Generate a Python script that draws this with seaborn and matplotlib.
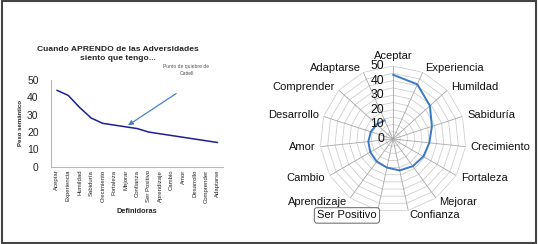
import numpy as np
import pandas as pd
import matplotlib
matplotlib.use("Agg")
import matplotlib.pyplot as plt
import seaborn as sns
from matplotlib.patches import Rectangle

# datos
definidoras = ["Aceptar", "Experiencia", "Humildad", "Sabiduría", "Crecimiento",
               "Fortaleza", "Mejorar", "Confianza", "Ser Positivo", "Aprendizaje",
               "Cambio", "Amor", "Desarrollo", "Comprender", "Adaptarse"]
peso = [44, 41, 34, 28, 25, 24, 23, 22, 20, 19, 18, 17, 16, 15, 14]
y_ticks = [0, 10, 20, 30, 40, 50]
quiebre = "Mejorar"

sns.set_theme(style="white")
plt.rcParams['font.family'] = ['Liberation Sans', 'DejaVu Sans']

fig = plt.figure(figsize=(5.38, 2.44), dpi=100)

# ---------------- línea (izquierda) ----------------
df = pd.DataFrame({"Definidoras": definidoras, "Peso": peso})
df["pos"] = np.arange(len(df))
ax = fig.add_axes([0.095, 0.316, 0.320, 0.357])
sns.lineplot(data=df, x="pos", y="Peso", ax=ax, color="#1f1f8f", linewidth=1.1)
ax.set_xlim(-0.5, len(definidoras) - 0.5)
ax.set_ylim(0, 50)
ax.set_yticks(y_ticks)
ax.set_xticks(df["pos"])
ax.set_xticklabels(definidoras, rotation=90, fontsize=4.3)
ax.tick_params(axis="y", labelsize=7.5, pad=9, length=0)
ax.tick_params(axis="x", pad=2, length=0)
for s in ["top", "right"]:
    ax.spines[s].set_visible(False)
for s in ["left", "bottom"]:
    ax.spines[s].set_color("#b8b8b8")
    ax.spines[s].set_linewidth(0.8)
ax.set_xlabel("Definidoras", fontsize=5.3, fontweight="bold", labelpad=4)
ax.set_ylabel("Peso semántico", fontsize=4.3, fontweight="bold", labelpad=3)
ax.set_title("Cuando APRENDO de las Adversidades\nsiento que tengo...",
             fontsize=6.1, fontweight="bold", pad=14, linespacing=1.5, x=0.39)

i_q = definidoras.index(quiebre)
ax.annotate("", xy=(i_q, peso[i_q]), xytext=(10.6, 43),
            arrowprops=dict(arrowstyle="-|>", color="#4a80d0", lw=0.9,
                            mutation_scale=7))
ax.text(11.3, 55.5, "Punto de quiebre de\nCattell", fontsize=3.6, color="#555555",
        ha="center", va="center", clip_on=False, linespacing=1.6)

# ---------------- radar (derecha) ----------------
n = len(definidoras)
ang = np.linspace(0, 2 * np.pi, n, endpoint=False)
rax = fig.add_axes([0.5948, 0.1311, 0.2714, 0.5984], projection="polar")
rax.set_theta_offset(np.pi / 2)
rax.set_theta_direction(-1)
rax.set_ylim(0, 50)
rax.grid(False)
rax.spines["polar"].set_visible(False)
rax.set_xticks([])
rax.set_yticks([])

# rejilla poligonal
ang_c = np.append(ang, ang[0])
for r in np.arange(5, 51, 5):
    rax.plot(ang_c, np.full(n + 1, r), color="#cfcfcf", lw=0.6, zorder=1)
for a in ang:
    rax.plot([a, a], [0, 50], color="#a8a8a8", lw=0.6, zorder=1)

rdf = pd.DataFrame({"ang": ang_c, "Peso": peso + [peso[0]]})
sns.lineplot(data=rdf, x="ang", y="Peso", ax=rax, sort=False, color="#3b78c6",
             linewidth=1.4, zorder=3)
rax.set_xlabel("")
rax.set_ylabel("")

for t in y_ticks:
    rax.annotate(str(t), xy=(0, t), xytext=(-6.5, 0), textcoords="offset points",
                 ha="right", va="center", fontsize=8.8, color="#111111", zorder=4)

for a, lab in zip(ang, definidoras):
    s, c = np.sin(a), np.cos(a)
    ha = "left" if s > 0.15 else ("right" if s < -0.15 else "center")
    va = "bottom" if c > 0.95 else "center"
    kw = {}
    if lab == "Ser Positivo":
        kw["bbox"] = dict(boxstyle="round,pad=0.25", fc="white", ec="#777777", lw=0.8)
    rax.text(a, 53.5, lab, ha=ha, va=va, fontsize=8, color="#111111", **kw)

# marco
fig.patches.append(Rectangle((0.003, 0.006), 0.994, 0.988, transform=fig.transFigure,
                             fill=False, ec="#444444", lw=1.5))

fig.savefig("out.png", dpi=100)
